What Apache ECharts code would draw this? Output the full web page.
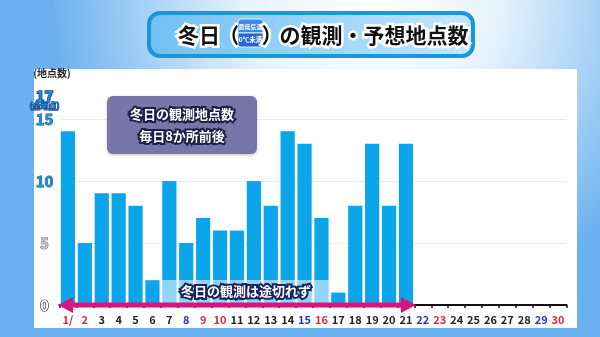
<!DOCTYPE html>
<html>
<head>
<meta charset="utf-8">
<script src="https://cdn.jsdelivr.net/npm/echarts@6/dist/echarts.min.js"></script>
<style>
  html, body { margin: 0; padding: 0; }
  #chart { width: 600px; height: 337px; }
</style>
</head>
<body>
<div id="chart"></div>
<script>
// Days of January (2022)
const days = ['1/', '2', '3', '4', '5', '6', '7', '8', '9', '10', '11', '12', '13', '14', '15',
  '16', '17', '18', '19', '20', '21', '22', '23', '24', '25', '26', '27', '28', '29', '30'];
// Number of stations observing a 冬日 (min temp below 0℃), days 1-21 observed
const stationCounts = [14, 5, 9, 9, 8, 2, 10, 5, 7, 6, 6, 10, 8, 14, 13, 7, 1, 8, 13, 8, 13,
  null, null, null, null, null, null, null, null, null];
// Day label colour groups
const redDays = ['1/', '2', '9', '10', '16', '23', '30'];
const blueDays = ['8', '15', '22', '29'];
// Value axis: ticks every 5, top = all stations
const yMax = 17;
const yStep = 5;

const FONT = '"Noto Sans CJK JP", "Noto Sans", sans-serif';
const chart = echarts.init(document.getElementById('chart'));

function dayColor(d) {
  if (redDays.includes(d)) return '#e2283c';
  if (blueDays.includes(d)) return '#2336c4';
  return '#222';
}

// outlined text: stroke painted under the fill
function outlined(fill, stroke, w) {
  return { fill: fill, stroke: stroke, lineWidth: w, strokeFirst: true, lineJoin: 'round' };
}

const baseGraphics = [
  // white plotting panel
  { id: 'panel', type: 'rect', z: -10, silent: true, shape: { x: 34, y: 69, width: 543, height: 259 }, style: { fill: '#ffffff' } },
  // bottom strip
  { id: 'strip', type: 'rect', z: -10, silent: true, shape: { x: 0, y: 328, width: 600, height: 9 }, style: { fill: '#6ab3f0' } },
  // unit label
  { id: 'unit', type: 'text', z: 10, style: { x: 52, y: 73, text: '(地点数)', align: 'center', verticalAlign: 'middle', font: 'bold 10px ' + FONT, fill: '#222' } },
  // title box
  {
    id: 'titleBox', type: 'rect', z: 10,
    shape: { x: 149, y: 13, width: 324, height: 43, r: 11 },
    style: {
      fill: { type: 'linear', x: 0, y: 0, x2: 1, y2: 1, colorStops: [{ offset: 0, color: '#6fbff2' }, { offset: 1, color: '#c6e8fb' }] },
      stroke: '#1897dc', lineWidth: 4
    }
  },
  { id: 't1', type: 'text', z: 11, style: Object.assign({ x: 199, y: 35, text: '冬日', align: 'center', verticalAlign: 'middle', font: 'bold 21px ' + FONT }, outlined('#111', '#fff', 5)) },
  { id: 't2', type: 'text', z: 11, style: Object.assign({ x: 229, y: 35, text: '（', align: 'center', verticalAlign: 'middle', font: 'bold 21px ' + FONT }, outlined('#111', '#fff', 5)) },
  { id: 'tb1', type: 'rect', z: 11, shape: { x: 238, y: 19, width: 25, height: 14, r: [3, 3, 0, 0] }, style: { fill: '#3a8ce6', stroke: '#fff', lineWidth: 0.8 } },
  { id: 'tb2', type: 'rect', z: 11, shape: { x: 238, y: 33, width: 25, height: 14, r: [0, 0, 3, 3] }, style: { fill: '#2a66d0', stroke: '#fff', lineWidth: 0.8 } },
  { id: 'tb1t', type: 'text', z: 12, style: { x: 250.5, y: 26.5, text: '最低気温', align: 'center', verticalAlign: 'middle', font: 'bold 6px ' + FONT, fill: '#fff' } },
  { id: 'tb2t', type: 'text', z: 12, style: { x: 250.5, y: 40, text: '0℃未満', align: 'center', verticalAlign: 'middle', font: 'bold 6.5px ' + FONT, fill: '#fff' } },
  { id: 't3', type: 'text', z: 11, style: Object.assign({ x: 272, y: 35, text: '）', align: 'center', verticalAlign: 'middle', font: 'bold 21px ' + FONT }, outlined('#111', '#fff', 5)) },
  { id: 't4', type: 'text', z: 11, style: Object.assign({ x: 374, y: 35, text: 'の観測・予想地点数', align: 'center', verticalAlign: 'middle', font: 'bold 21px ' + FONT }, outlined('#111', '#fff', 5)) },
  // info box
  {
    id: 'infoBox', type: 'rect', z: 10,
    shape: { x: 107, y: 96, width: 150, height: 58, r: 6 },
    style: { fill: '#7876a8', shadowBlur: 3, shadowColor: 'rgba(0,0,0,0.25)', shadowOffsetY: 1 }
  },
  { id: 'info1', type: 'text', z: 11, style: Object.assign({ x: 182, y: 114, text: '冬日の観測地点数', align: 'center', verticalAlign: 'middle', font: 'bold 13px ' + FONT }, outlined('#fff', '#1d1f4a', 4)) },
  { id: 'info2', type: 'text', z: 11, style: Object.assign({ x: 182, y: 136, text: '毎日8か所前後', align: 'center', verticalAlign: 'middle', font: 'bold 13px ' + FONT }, outlined('#fff', '#1d1f4a', 4)) }
];

const option = {
  animation: false,
  backgroundColor: {
    type: 'radial', x: 0.62, y: 0.0, r: 0.95,
    colorStops: [
      { offset: 0, color: '#ffffff' },
      { offset: 0.4, color: '#e6f3fd' },
      { offset: 1, color: '#6cb1ef' }
    ]
  },
  grid: { left: 59.5, right: 33.5, top: 94, bottom: 32 },
  xAxis: {
    type: 'category',
    data: days,
    axisLine: { lineStyle: { color: '#111', width: 2 } },
    axisTick: { show: true, length: 3, lineStyle: { color: '#111', width: 1.5 } },
    axisLabel: {
      margin: 9,
      fontFamily: FONT, fontSize: 11, fontWeight: 'bold',
      interval: 0,
      color: function (v) { return dayColor(v); }
    },
    z: 3
  },
  yAxis: {
    type: 'value',
    min: 0, max: yMax, interval: yStep,
    axisLine: { show: false },
    axisTick: { show: false },
    splitLine: {
      lineStyle: {
        color: ['rgba(0,0,0,0)', '#ececec', '#ececec', '#ececec', 'rgba(0,0,0,0)'],
        width: 1
      }
    },
    axisLabel: {
      margin: 15,
      align: 'center',
      fontFamily: FONT,
      fontWeight: 'bold',
      formatter: function (v) {
        if (v === yMax) return '';
        if (v === 15 || v === 10) return '{b|' + v + '}';
        if (v === 5) return '{g|5}';
        return '{w|' + v + '}';
      },
      rich: {
        b: { fontSize: 15, fontWeight: 'bold', color: '#1d8fe4', textBorderColor: '#163f7a', textBorderWidth: 0.8, fontFamily: FONT },
        g: { fontSize: 15, fontWeight: 'bold', color: '#c4c4c4', textBorderColor: '#666', textBorderWidth: 0.8, fontFamily: FONT },
        w: { fontSize: 15, fontWeight: 'bold', color: '#fff', textBorderColor: '#222', textBorderWidth: 1.2, fontFamily: FONT }
      }
    }
  },
  series: [{
    type: 'bar',
    data: stationCounts,
    barCategoryGap: '16%',
    itemStyle: { color: '#0ba6e9' },
    z: 2
  }],
  graphic: baseGraphics
};

chart.setOption(option);

// Overlays tied to axis positions: top label, observation-period arrow and caption band
function addOverlays() {
  const p1 = chart.convertToPixel({ gridIndex: 0 }, [days[0], 0]);
  const p2 = chart.convertToPixel({ gridIndex: 0 }, [days[1], 0]);
  const band = p2[0] - p1[0];
  const pEnd = chart.convertToPixel({ gridIndex: 0 }, ['21', 0]);
  const pBandL = chart.convertToPixel({ gridIndex: 0 }, ['7', 0]);
  const pBandR = chart.convertToPixel({ gridIndex: 0 }, ['16', 0]);
  const pTop = chart.convertToPixel({ gridIndex: 0 }, [days[0], yMax]);
  const y0 = p1[1];
  const xl = p1[0] - band / 2 - 1.5;
  const xr = pEnd[0] + band / 2 + 1.5;
  const head = 15, hh = 8, th = 2.6;
  const bx0 = pBandL[0] - band / 2 + 1;
  const bx1 = pBandR[0] + band / 2;

  chart.setOption({
    graphic: [
      {
        id: 'maxLabel', type: 'text', z: 10,
        style: Object.assign({ x: 44.5, y: pTop[1] + 2, text: String(yMax), align: 'center', verticalAlign: 'middle', font: 'bold 15px ' + FONT }, outlined('#1d8fe4', '#163f7a', 1.6))
      },
      {
        id: 'maxSub', type: 'text', z: 10,
        style: Object.assign({ x: 44.5, y: pTop[1] + 12, text: '(全地点)', align: 'center', verticalAlign: 'middle', font: 'bold 8px ' + FONT }, outlined('#1d8fe4', '#163f7a', 1.2))
      },
      {
        id: 'capBand', type: 'rect', z: 20,
        shape: { x: bx0, y: y0 - 25, width: bx1 - bx0, height: 23 },
        style: { fill: 'rgba(225,244,253,0.62)' }
      },
      {
        id: 'capText', type: 'text', z: 21,
        style: Object.assign({
          x: (bx0 + bx1) / 2, y: y0 - 13.5, text: '冬日の観測は途切れず',
          align: 'center', verticalAlign: 'middle', font: 'bold 13px ' + FONT
        }, outlined('#fff', '#1b2462', 4))
      },
      {
        id: 'arrow', type: 'polygon', z: 22,
        shape: {
          points: [
            [xl, y0],
            [xl + head, y0 - hh],
            [xl + head, y0 - th],
            [xr - head, y0 - th],
            [xr - head, y0 - hh],
            [xr, y0],
            [xr - head, y0 + hh],
            [xr - head, y0 + th],
            [xl + head, y0 + th],
            [xl + head, y0 + hh]
          ]
        },
        style: { fill: '#d8147f' }
      }
    ]
  });
}
addOverlays();
</script>
</body>
</html>
